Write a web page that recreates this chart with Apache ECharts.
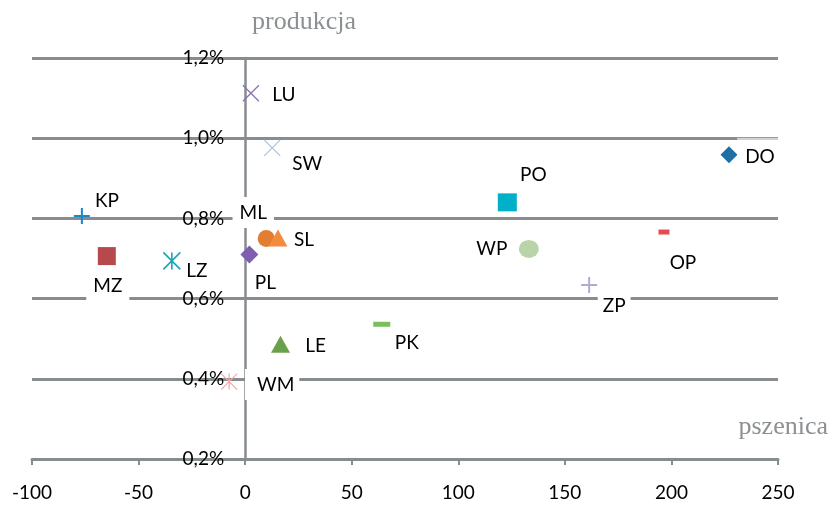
<!DOCTYPE html>
<html>
<head>
<meta charset="utf-8">
<script src="https://cdn.jsdelivr.net/npm/echarts@6/dist/echarts.min.js"></script>
<style>html,body{margin:0;padding:0;background:#fff}#c{width:831px;height:505px}</style>
</head>
<body>
<div id="c"></div>
<script>
// ---- data ----
const regions   = ['DO','KP','LZ','LU','LE','ML','MZ','OP','PK','PL','PO','SL','SW','WM','WP','ZP'];
const pszenica  = [227, -76.6, -34.4, 2.7, 16.6, 9.9, -64.9, 196.5, 64.1, 2.0, 123, 15.4, 12.7, -7.5, 133.1, 161.4];
const produkcja = [0.959, 0.806, 0.694, 1.112, 0.486, 0.750, 0.706, 0.766, 0.536, 0.710, 0.840, 0.751, 0.976, 0.393, 0.724, 0.634];
const xTicks = [-100, -50, 0, 50, 100, 150, 200, 250];
const yTicks = [0.2, 0.4, 0.6, 0.8, 1.0, 1.2];
const xTitle = 'pszenica';
const yTitle = 'produkcja';

// ---- styles ----
const P_X = 'path://M0,0L10,10M10,0L0,10';
const P_PLUS = 'path://M5,0L5,10M0,5L10,5';
const P_AST = 'path://M0,0L10,10M10,0L0,10M5,0L5,10';
const marker = {
  DO: {symbol:'diamond', size:17, color:'#1D6FA5'},
  KP: {symbol:P_PLUS, size:16, color:'#1C86C6', stroke:2},
  LZ: {symbol:P_AST, size:17, color:'#1AA5B5', stroke:1.6},
  LU: {symbol:P_X, size:16, color:'#8870B0', stroke:1.2},
  LE: {symbol:'triangle', size:[19,17], color:'#68A04B'},
  ML: {symbol:'circle', size:17, color:'#E27D32'},
  MZ: {symbol:'rect', size:18, color:'#B5494B'},
  OP: {symbol:'rect', size:[11,5], color:'#E34D50'},
  PK: {symbol:'rect', size:[17,5], color:'#7ABF5B'},
  PL: {symbol:'diamond', size:18, color:'#7E5FAF'},
  PO: {symbol:'rect', size:[19,18], color:'#00AFC8'},
  SL: {symbol:'triangle', size:[19,17], color:'#F28C3E'},
  SW: {symbol:P_X, size:16, color:'#A9C2DE', stroke:1.2},
  WM: {symbol:P_AST, size:16, color:'#F2A6A8', stroke:1.2},
  WP: {symbol:'circle', size:[20,18], color:'#B8D4A8'},
  ZP: {symbol:P_PLUS, size:16, color:'#B6A9D1', stroke:2}
};
const labelOffset = {
  DO:[30,2], KP:[25,-15], LZ:[25,10], LU:[33,2], LE:[35,2], ML:[-13,-26], MZ:[1,30], OP:[19,31],
  PK:[25,19], PL:[16,28], PO:[26,-27], SL:[26,2], SW:[35,16], WM:[43,3], WP:[-37,0], ZP:[25,21]
};
const labelPad = { WM:[6,5,6,12], ML:[6,7,6,7], MZ:[6,7,6,7], DO:[16,6,3,8] };
const labelBg = { DO: 'rgba(255,255,255,0.6)' };

const GRID = '#878C8F';
const FONT = 'Lato';
const GRID_LEFT = 32, GRID_RIGHT = 53;
const PLOT_W = 831 - GRID_LEFT - GRID_RIGHT;

const series = regions.map((r, i) => {
  const m = marker[r];
  const isPath = m.symbol.indexOf('path://') === 0;
  return {
    type: 'scatter',
    name: r,
    symbol: m.symbol,
    symbolSize: m.size,
    itemStyle: isPath
      ? {color: 'none', borderColor: m.color, borderWidth: m.stroke, opacity: 1}
      : {color: m.color, opacity: 1},
    label: {
      show: true,
      formatter: r,
      position: 'inside',
      align: 'center',
      verticalAlign: 'middle',
      offset: labelOffset[r],
      color: '#000',
      fontFamily: FONT,
      fontSize: 19,
      backgroundColor: labelBg[r] || '#fff',
      padding: labelPad[r] || [3, 5]
    },
    emphasis: {disabled: true},
    data: [[pszenica[i], produkcja[i]]]
  };
});

// y axis sits at x = 0: shift it from the grid's left edge
const xMin = xTicks[0], xMax = xTicks[xTicks.length - 1];
const zeroShift = (0 - xMin) / (xMax - xMin) * PLOT_W;

const chart = echarts.init(document.getElementById('c'), null, {renderer: 'canvas'});
chart.setOption({
  animation: false,
  backgroundColor: '#fff',
  grid: {left: GRID_LEFT, right: GRID_RIGHT, top: 58, bottom: 46, containLabel: false, outerBoundsMode: 'none'},
  xAxis: {
    type: 'value',
    min: xMin, max: xMax, interval: 50,
    axisLine: {onZero: false, lineStyle: {color: GRID, width: 3}},
    axisTick: {show: true, length: 6, lineStyle: {color: GRID, width: 2}},
    axisLabel: {color: '#000', fontFamily: FONT, fontSize: 19, margin: 24},
    splitLine: {show: false}
  },
  yAxis: {
    type: 'value',
    position: 'left',
    offset: -zeroShift,
    min: yTicks[0], max: yTicks[yTicks.length - 1], interval: 0.2,
    axisLine: {show: true, onZero: false, lineStyle: {color: GRID, width: 2.5}},
    axisTick: {show: false},
    axisLabel: {
      color: '#000', fontFamily: FONT, fontSize: 19, margin: 21,
      formatter: v => v.toFixed(1).replace('.', ',') + '%'
    },
    splitLine: {show: true, lineStyle: {color: GRID, width: 3}}
  },
  graphic: [
    {type: 'text', left: 252, top: 9, style: {text: yTitle, font: '26px "Liberation Serif"', fill: '#8C9093'}},
    {type: 'text', right: 3, top: 414, style: {text: xTitle, font: '26px "Liberation Serif"', fill: '#8C9093'}}
  ],
  series: series
});
</script>
</body>
</html>
